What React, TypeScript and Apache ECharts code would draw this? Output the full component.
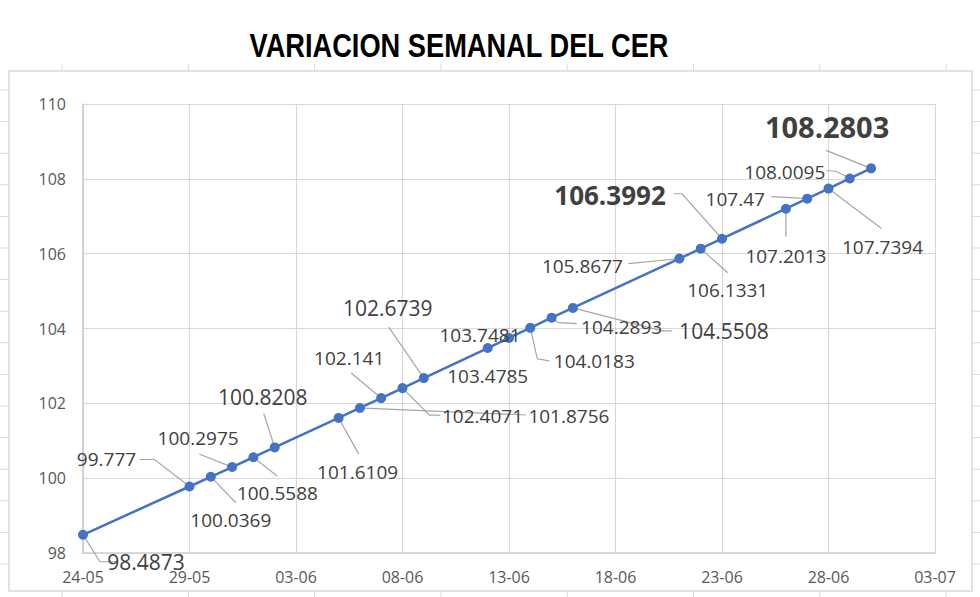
import React, { useEffect, useRef } from "react";
import * as echarts from "echarts";

// ---- data ----
const baseDate = "2022-05-24";
const dates = [
  "2022-05-24", "2022-05-29", "2022-05-30", "2022-05-31", "2022-06-01", "2022-06-02",
  "2022-06-05", "2022-06-06", "2022-06-07", "2022-06-08", "2022-06-09",
  "2022-06-12", "2022-06-13", "2022-06-14", "2022-06-15", "2022-06-16",
  "2022-06-21", "2022-06-22", "2022-06-23", "2022-06-26", "2022-06-27",
  "2022-06-28", "2022-06-29", "2022-06-30",
];
const values = [
  98.4873, 99.777, 100.0369, 100.2975, 100.5588, 100.8208,
  101.6109, 101.8756, 102.141, 102.4071, 102.6739,
  103.4785, 103.7481, 104.0183, 104.2893, 104.5508,
  105.8677, 106.1331, 106.3992, 107.2013, 107.47,
  107.7394, 108.0095, 108.2803,
];
const xDaysMin = 0;
const xDaysMax = 40;
const xDaysStep = 5;
const yMin = 98;
const yMax = 110;
const yStep = 2;
const titleText = "VARIACION SEMANAL DEL CER";

// ---- label styling / placement (offsets from the point, px) ----
// n = normal, l = large, b = bold, B = bold larger
const labelKinds = [
  "l", "n", "n", "n", "n", "l",
  "n", "n", "n", "n", "l",
  "n", "n", "n", "n", "l",
  "n", "n", "b", "n", "n",
  "n", "n", "B",
];
const labelOffsets: [number, number][] = [
  [63, 27], [-83, -28], [20, 43], [-34, -29], [24, 36], [-12, -50],
  [19, 54], [209, 8], [-32, -40], [80, 28], [-36, -70],
  [0, 28], [-29, -3], [64, 33], [70, 9], [151, 23],
  [-97, 7], [27, 41], [-112, -44], [0, 47], [-72, 0],
  [54, 58], [-65, -6], [-44, -42],
];
// leader line: [elbow, end] offsets from the point (null = no leader)
const leaders: ([number, number][] | null)[] = [
  [[17, 27], [33, 27]],
  [[-35, -27], [-50, -27]],
  [[25, 26], [25, 26]],
  [[-33, -13], [-33, -13]],
  [[24, 19], [24, 19]],
  [[-11, -34], [-11, -34]],
  [[20, 36], [20, 36]],
  [[166, 7], [166, 7]],
  [[-30, -25], [-30, -25]],
  [[27, 27], [38, 27]],
  [[-35, -51], [-35, -51]],
  null,
  null,
  [[7, 31], [19, 33]],
  [[7, 5], [25, 6]],
  [[89, 23], [99, 23]],
  [[-51, 5], [-51, 5]],
  [[27, 24], [27, 24]],
  [[-40, -45], [-48, -45]],
  [[0, 28], [0, 28]],
  [[-36, -2], [-36, -2]],
  [[53, 40], [53, 40]],
  [[-13, -7], [-23, -8]],
  [[-45, -18], [-45, -18]],
];

const DAY = 86400000;
const baseMs = Date.parse(baseDate + "T00:00:00Z");
function dayOffset(d: string) {
  return Math.round((Date.parse(d + "T00:00:00Z") - baseMs) / DAY);
}
function fmtDay(n: number) {
  const dt = new Date(baseMs + n * DAY);
  const dd = String(dt.getUTCDate()).padStart(2, "0");
  const mm = String(dt.getUTCMonth() + 1).padStart(2, "0");
  return dd + "-" + mm;
}

const kindStyle: Record<string, any> = {
  n: { fontSize: 19, fontWeight: "normal" },
  l: { fontSize: 21, fontWeight: "normal" },
  b: { fontSize: 26, fontWeight: "bold" },
  B: { fontSize: 29, fontWeight: "bold" },
};

export default function App() {
  const ref = useRef<HTMLDivElement>(null);
  useEffect(() => {
    document.body.style.margin = "0";
    if (!ref.current) return;
    const chart = echarts.init(ref.current, undefined, { renderer: "svg" });

    const points = dates.map((d, i) => [dayOffset(d), values[i]]);
    const seriesData = points.map((p, i) => ({
      value: p,
      label: { ...kindStyle[labelKinds[i]] },
    }));

    // decorative spreadsheet frame + gridline stubs
    const deco: any[] = [
      {
        type: "rect",
        shape: { x: 9, y: 71, width: 963, height: 520 },
        style: { fill: "none", stroke: "#d9d9d9", lineWidth: 1.5 },
        silent: true,
      },
    ];
    for (let k = 0; k < 8; k++) {
      const x = 62 + k * 126.3;
      deco.push({ type: "line", shape: { x1: x, y1: 64, x2: x, y2: 71 }, style: { stroke: "#d9d9d9", lineWidth: 1 }, silent: true });
      deco.push({ type: "line", shape: { x1: x, y1: 591, x2: x, y2: 597 }, style: { stroke: "#d9d9d9", lineWidth: 1 }, silent: true });
    }
    for (let k = 0; k < 16; k++) {
      const y = 90 + k * 31.6;
      deco.push({ type: "line", shape: { x1: 0, y1: y, x2: 9, y2: y }, style: { stroke: "#d9d9d9", lineWidth: 1 }, silent: true });
      deco.push({ type: "line", shape: { x1: 972, y1: y, x2: 980, y2: y }, style: { stroke: "#d9d9d9", lineWidth: 1 }, silent: true });
    }
    deco.push({
      type: "text",
      x: 459,
      y: 46,
      scaleX: 0.825,
      style: {
        text: titleText,
        fontSize: 33,
        fontWeight: "bold",
        fontFamily: "'Liberation Sans', sans-serif",
        fill: "#000000",
        align: "center",
        verticalAlign: "middle",
      },
      silent: true,
    });

    chart.setOption({
      animation: false,
      backgroundColor: "#ffffff",
      textStyle: { fontFamily: "'Open Sans', sans-serif" },
      graphic: deco,
      grid: { left: 83, right: 45, top: 104, bottom: 44, containLabel: false },
      xAxis: {
        type: "value",
        min: xDaysMin,
        max: xDaysMax,
        interval: xDaysStep,
        axisLine: { show: true, lineStyle: { color: "#d0d0d0", width: 1.5 } },
        axisTick: { show: false },
        splitLine: { show: true, lineStyle: { color: "#d9d9d9", width: 1.2 } },
        axisLabel: {
          formatter: (v: number) => fmtDay(v),
          color: "#595959",
          fontSize: 16,
          margin: 16,
          fontFamily: "'Open Sans', sans-serif",
        },
      },
      yAxis: {
        type: "value",
        min: yMin,
        max: yMax,
        interval: yStep,
        axisLine: { show: true, lineStyle: { color: "#c8c8c8", width: 1.5 } },
        axisTick: { show: false },
        splitLine: { show: true, lineStyle: { color: "#d9d9d9", width: 1.2 } },
        axisLabel: {
          color: "#595959",
          fontSize: 16,
          margin: 17,
          fontFamily: "'Open Sans', sans-serif",
        },
      },
      series: [
        {
          // leader lines from each point to its label
          type: "custom",
          z: 1,
          silent: true,
          data: points,
          renderItem: (params: any, api: any) => {
            const i = params.dataIndex;
            const ld = leaders[i];
            if (!ld) return null;
            const c = api.coord([api.value(0), api.value(1)]);
            const [ex, ey] = ld[0];
            const len = Math.hypot(ex, ey) || 1;
            const r = 4;
            return {
              type: "polyline",
              shape: {
                points: [
                  [c[0] + (ex / len) * r, c[1] + (ey / len) * r],
                  [c[0] + ld[0][0], c[1] + ld[0][1]],
                  [c[0] + ld[1][0], c[1] + ld[1][1]],
                ],
              },
              style: { stroke: "#a6a6a6", lineWidth: 1.2, fill: "none" },
            };
          },
        },
        {
          type: "line",
          z: 3,
          data: seriesData,
          symbol: "circle",
          symbolSize: 10,
          itemStyle: { color: "#4472c4" },
          lineStyle: { color: "#4472c4", width: 2.5 },
          label: {
            show: true,
            position: "inside",
            color: "#404040",
            textBorderWidth: 0,
            fontFamily: "'Open Sans', sans-serif",
            formatter: (p: any) => String(p.value[1]),
          },
          labelLayout: (params: any) => ({
            dx: labelOffsets[params.dataIndex][0],
            dy: labelOffsets[params.dataIndex][1],
          }),
        },
      ],
    });
    return () => chart.dispose();
  }, []);
  return <div ref={ref} style={{ width: 980, height: 597 }} />;
}
